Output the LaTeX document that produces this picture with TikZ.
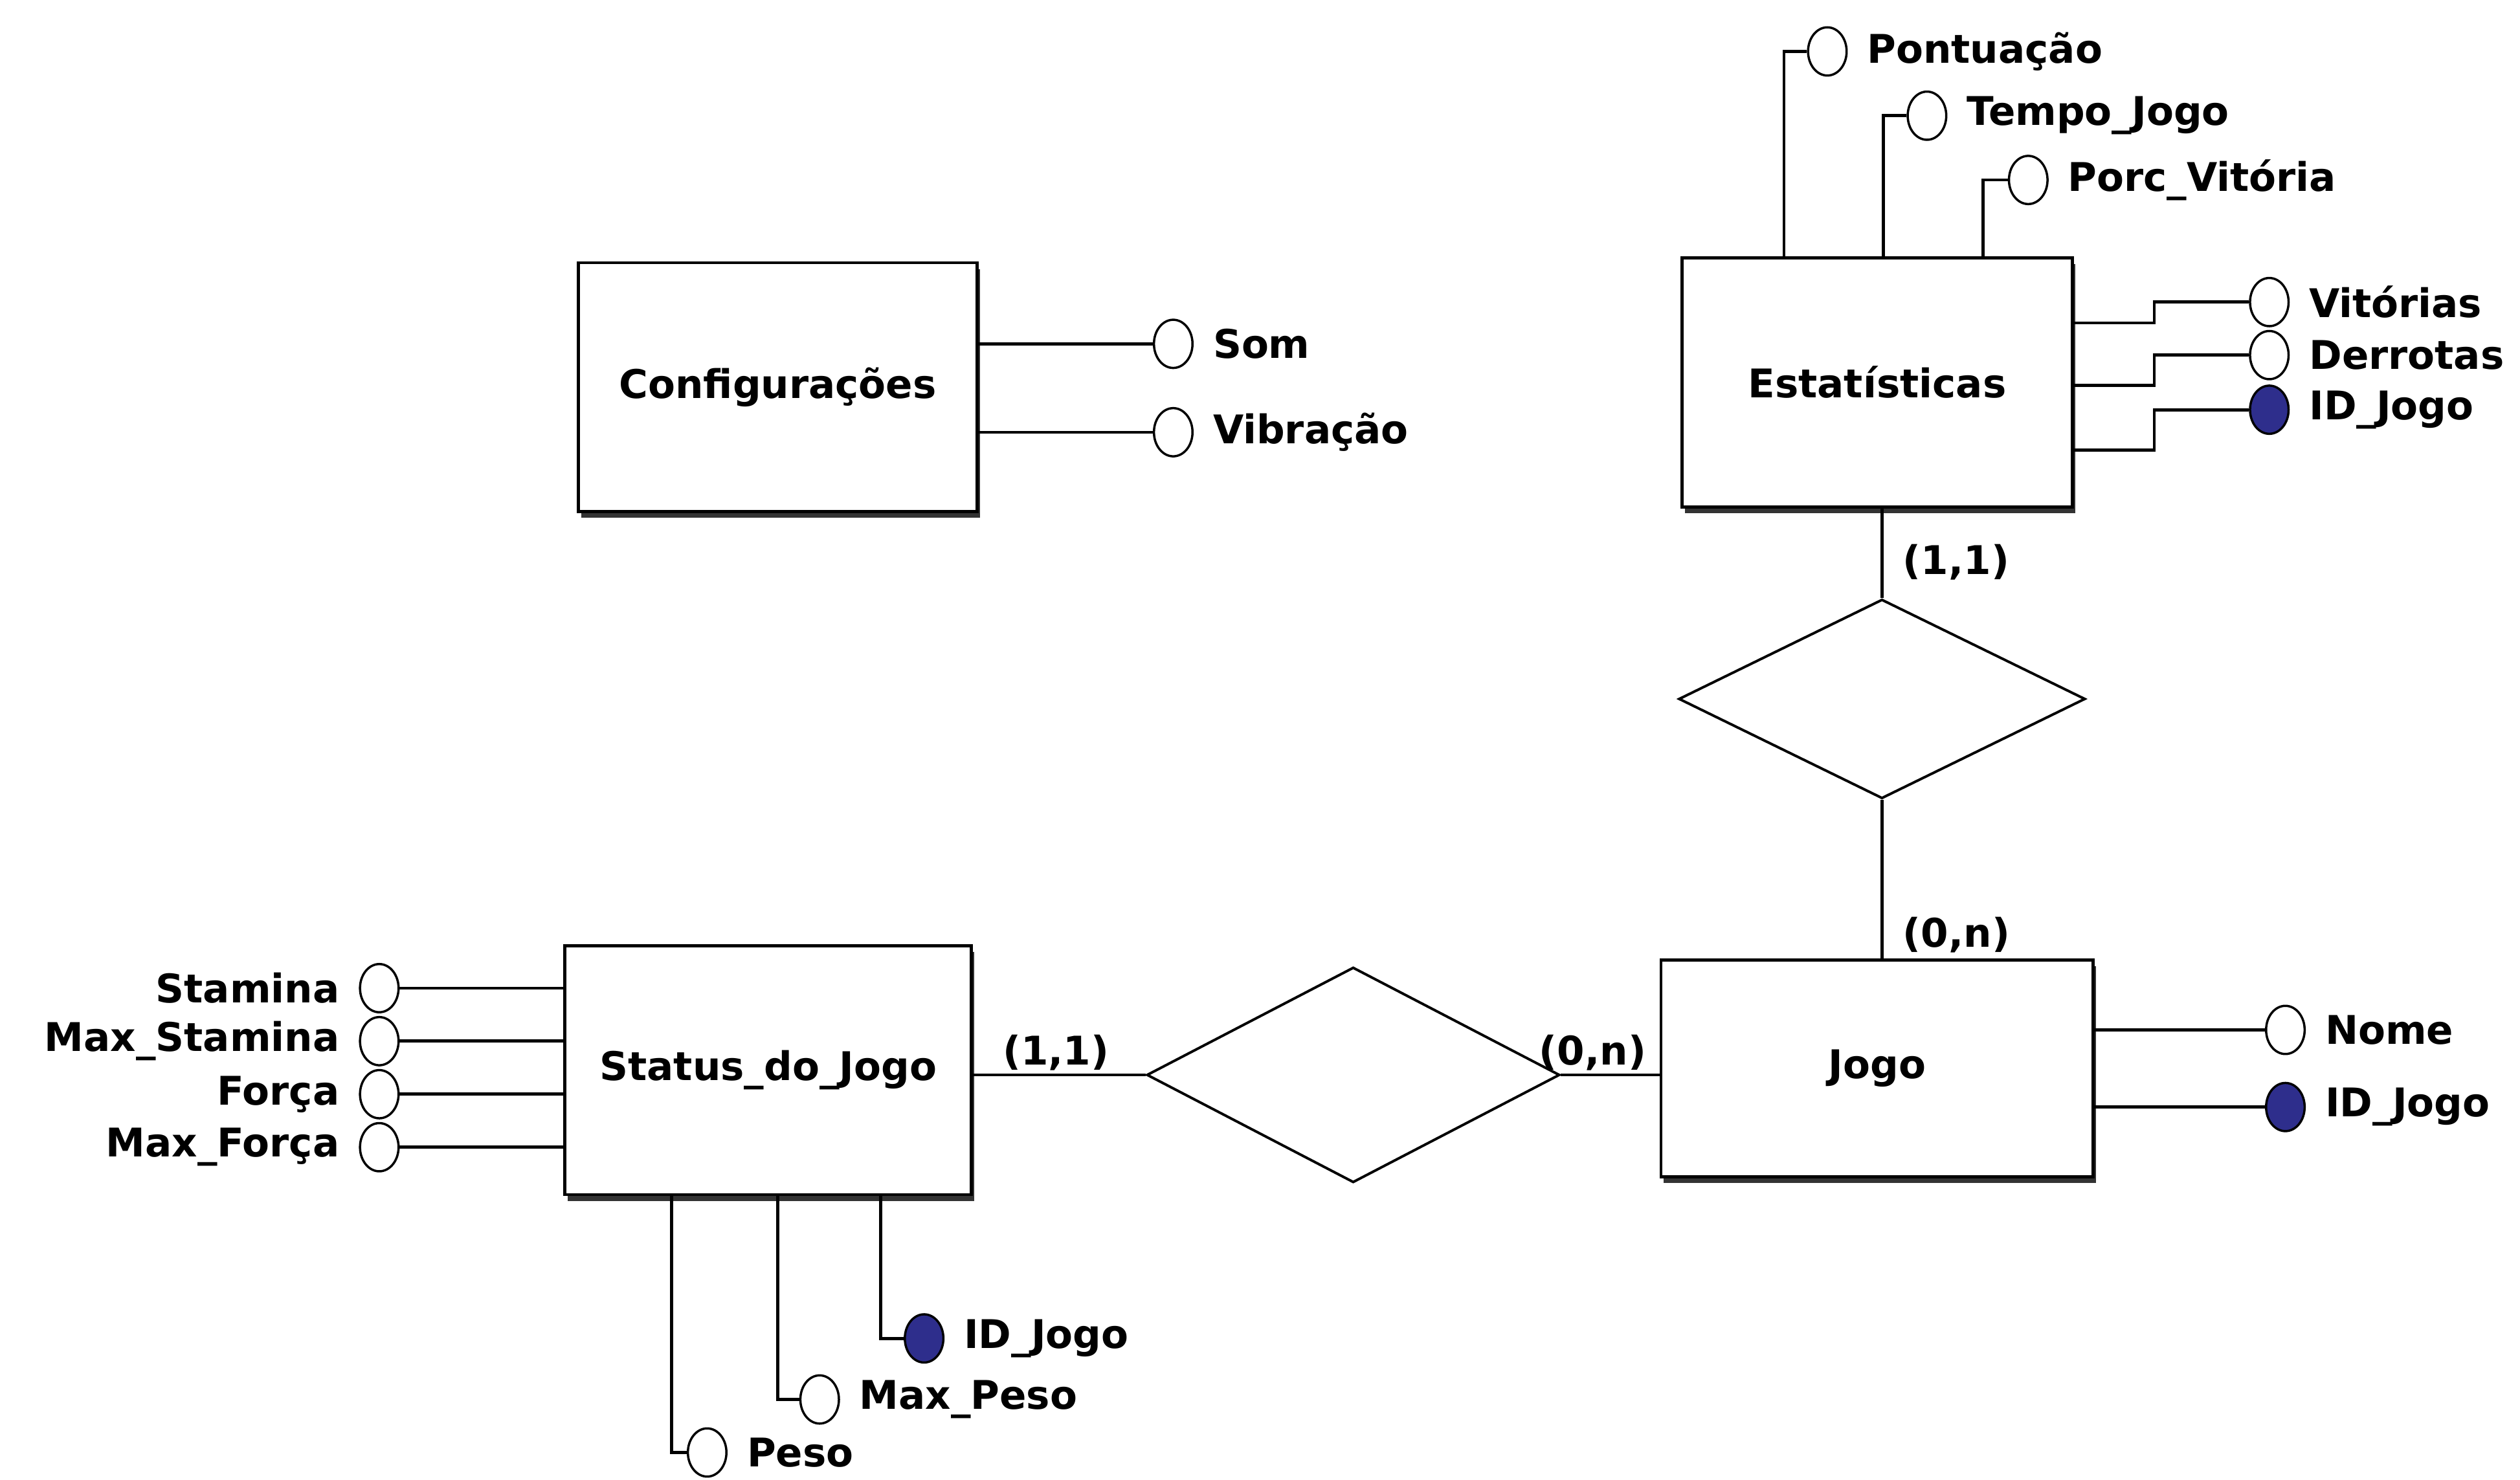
\documentclass[tikz,border=0pt]{standalone}
\usepackage{fontspec}
\setmainfont{DejaVu Sans}
\usetikzlibrary{shapes.geometric, positioning, calc, shadows}

\definecolor{keyblue}{RGB}{46,46,140}
\newcommand{\erfont}{\bfseries\fontsize{14}{16}\selectfont}

\begin{document}
\begin{tikzpicture}[x=0.02cm, y=-0.02cm,
    entity/.style={rectangle, draw=black, line width=1.1pt, fill=white, inner sep=0pt, font=\erfont,
        drop shadow={shadow xshift=1pt, shadow yshift=-2.2pt, fill=black!80, opacity=1}},
    relation/.style={diamond, draw=black, line width=0.9pt, fill=white, inner sep=0pt},
    attr/.style={ellipse, draw=black, line width=0.8pt, fill=white, minimum width=0.48cm, minimum height=0.6cm, inner sep=0pt},
    keyattr/.style={attr, fill=keyblue},
    attr_label/.style={font=\erfont, inner sep=1pt},
    card/.style={font=\erfont, inner sep=1pt},
    link/.style={line width=1.1pt}
]
    \useasboundingbox (0,0) rectangle (1568,921);

    % ========== Configurações ==========
    \node[entity, minimum width=4.96cm, minimum height=3.1cm] (conf) at (484,241) {Configurações};

    \node[attr] (som) at (730,214) {};
    \node[attr] (vib) at (730,269) {};
    \node[attr_label, right=0.2cm of som] {Som};
    \node[attr_label, right=0.2cm of vib] {Vibração};
    \draw[link] (conf.east |- som) -- (som.west);
    \draw[link] (conf.east |- vib) -- (vib.west);

    % ========== Estatísticas ==========
    \node[entity, minimum width=4.86cm, minimum height=3.1cm] (est) at (1168,238) {Estatísticas};

    % top attributes
    \node[attr] (pont) at (1137,32) {};
    \node[attr] (tempo) at (1199,72) {};
    \node[attr] (porc) at (1262,112) {};
    \node[attr_label, right=0.2cm of pont] {Pontuação};
    \node[attr_label, right=0.2cm of tempo] {Tempo\_Jogo};
    \node[attr_label, right=0.2cm of porc] {Porc\_Vitória};
    \draw[link] ($(est.north)+(-58,0)$) |- (pont.west);
    \draw[link] ($(est.north)+(4,0)$) |- (tempo.west);
    \draw[link] ($(est.north)+(66,0)$) |- (porc.west);

    % right attributes
    \node[attr] (vit) at (1412,188) {};
    \node[attr] (der) at (1412,221) {};
    \node[keyattr] (id_est) at (1412,255) {};
    \node[attr_label, right=0.2cm of vit] {Vitórias};
    \node[attr_label, right=0.2cm of der] {Derrotas};
    \node[attr_label, right=0.2cm of id_est] {ID\_Jogo};
    \draw[link] ($(est.east)+(0,-37)$) -- ++(50,0) |- (vit.west);
    \draw[link] ($(est.east)+(0,2)$) -- ++(50,0) |- (der.west);
    \draw[link] ($(est.east)+(0,42)$) -- ++(50,0) |- (id_est.west);

    % ========== Relationship Estatísticas - Jogo ==========
    \node[relation, minimum width=5.06cm, minimum height=2.48cm] (rel_est) at (1171,435) {};
    \node[card, anchor=west] (card_est) at (1182,350) {(1,1)};

    % ========== Jogo ==========
    \node[entity, minimum width=5.38cm, minimum height=2.7cm] (jogo) at (1168,665) {Jogo};
    \node[card, anchor=west] (card_jogo_top) at (1182,582) {(0,n)};
    \draw[link] (rel_est.north |- est.south) -- (rel_est.north);
    \draw[link] (rel_est.south) -- (rel_est.south |- jogo.north);

    \node[attr] (nome) at (1422,641) {};
    \node[keyattr] (id_jogo) at (1422,689) {};
    \node[attr_label, right=0.2cm of nome] {Nome};
    \node[attr_label, right=0.2cm of id_jogo] {ID\_Jogo};
    \draw[link] (jogo.east |- nome) -- (nome.west);
    \draw[link] (jogo.east |- id_jogo) -- (id_jogo.west);

    % ========== Status_do_Jogo ==========
    \node[entity, minimum width=5.06cm, minimum height=3.1cm] (status) at (478,666) {Status\_do\_Jogo};

    % left attributes
    \node[attr] (stam) at (236,615) {};
    \node[attr] (max_stam) at (236,648) {};
    \node[attr] (forca) at (236,681) {};
    \node[attr] (max_forca) at (236,714) {};
    \node[attr_label, left=0.2cm of stam] {Stamina};
    \node[attr_label, left=0.2cm of max_stam] {Max\_Stamina};
    \node[attr_label, left=0.2cm of forca] {Força};
    \node[attr_label, left=0.2cm of max_forca] {Max\_Força};
    \draw[link] (stam.east) -- (stam -| status.west);
    \draw[link] (max_stam.east) -- (max_stam -| status.west);
    \draw[link] (forca.east) -- (forca -| status.west);
    \draw[link] (max_forca.east) -- (max_forca -| status.west);

    % bottom attributes
    \node[attr] (peso) at (440,904) {};
    \node[attr] (max_peso) at (510,871) {};
    \node[keyattr] (id_status) at (575,833) {};
    \node[attr_label, right=0.2cm of peso] {Peso};
    \node[attr_label, right=0.2cm of max_peso] {Max\_Peso};
    \node[attr_label, right=0.2cm of id_status] {ID\_Jogo};
    \draw[link] ($(status.south)+(-60,0)$) |- (peso.west);
    \draw[link] ($(status.south)+(6,0)$) |- (max_peso.west);
    \draw[link] ($(status.south)+(70,0)$) |- (id_status.west);

    % ========== Relationship Status_do_Jogo - Jogo ==========
    \node[relation, minimum width=5.14cm, minimum height=2.68cm] (rel_status) at (842,669) {};
    \draw[link] (status.east |- rel_status.west) -- (rel_status.west);
    \draw[link] (rel_status.east) -- (jogo.west |- rel_status.east);
    \node[card] (card_status) at (657,655) {(1,1)};
    \node[card] (card_jogo_left) at (991,655) {(0,n)};

\end{tikzpicture}
\end{document}
